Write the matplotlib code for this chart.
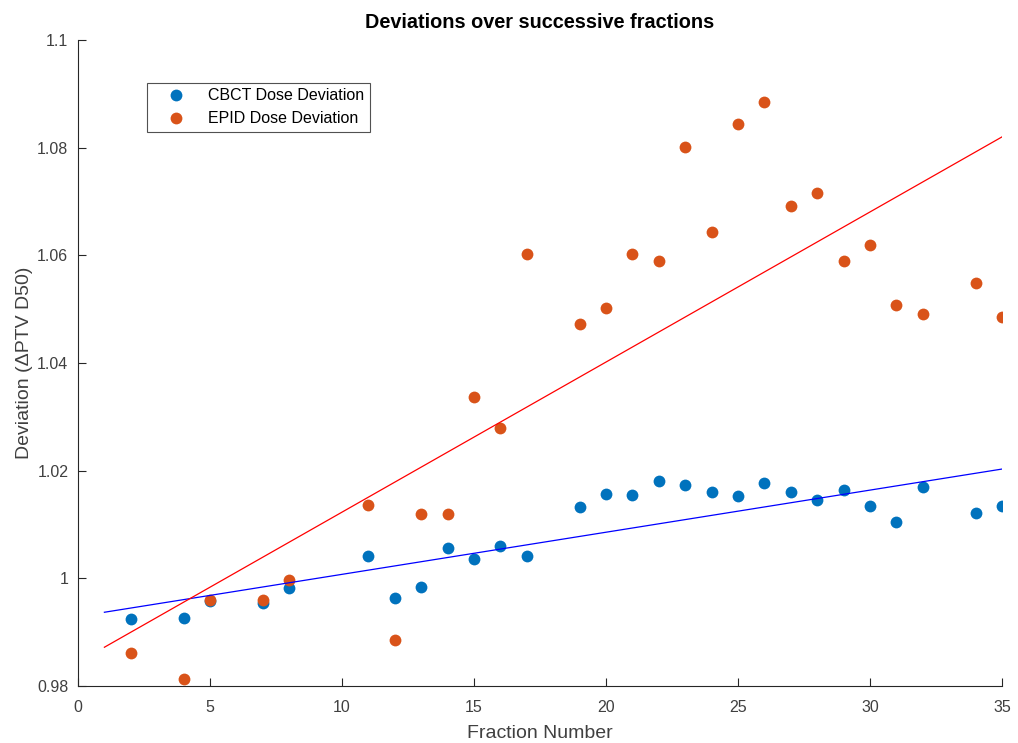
import numpy as np
import matplotlib.pyplot as plt

# ---------------- data ----------------
fractions = [2, 4, 5, 7, 8, 11, 12, 13, 14, 15, 16, 17, 19, 20, 21, 22, 23, 24,
             25, 26, 27, 28, 29, 30, 31, 32, 34, 35]
cbct_dev = [0.9924, 0.9926, 0.9958, 0.9954, 0.9982, 1.0041, 0.9963, 0.9984,
            1.0056, 1.0036, 1.0060, 1.0041, 1.0132, 1.0157, 1.0155, 1.0181,
            1.0173, 1.0160, 1.0153, 1.0177, 1.0160, 1.0145, 1.0164, 1.0134,
            1.0105, 1.0170, 1.0121, 1.0134]
epid_dev = [0.9861, 0.9813, 0.9960, 0.9960, 0.9997, 1.0136, 0.9885, 1.0119,
            1.0119, 1.0337, 1.0279, 1.0602, 1.0472, 1.0502, 1.0602, 1.0589,
            1.0801, 1.0643, 1.0844, 1.0885, 1.0692, 1.0716, 1.0589, 1.0619,
            1.0508, 1.0491, 1.0549, 1.0485]

# trend lines (fraction 1 -> 35)
trend_x = [1, 35]
cbct_trend = [0.9937, 1.0203]
epid_trend = [0.9872, 1.0820]

plt.rcParams['font.family'] = ['Liberation Sans', 'DejaVu Sans']

fig = plt.figure(figsize=(10.18, 7.43), dpi=100)
ax = fig.add_axes([78 / 1018, 1 - 686 / 743, 924 / 1018, 646 / 743])

ax.plot(fractions, cbct_dev, 'o', color='#0072BD', ms=8.5, mec='none',
        label='CBCT Dose Deviation')
ax.plot(fractions, epid_dev, 'o', color='#D95319', ms=8.5, mec='none',
        label='EPID Dose Deviation')
ax.plot(trend_x, cbct_trend, '-', color='#0000ff', lw=0.9)
ax.plot(trend_x, epid_trend, '-', color='#ff0000', lw=0.9)

ax.set_xlim(0, 35)
ax.set_ylim(0.98, 1.1)
ax.set_xticks([0, 5, 10, 15, 20, 25, 30, 35])
ax.set_yticks([0.98, 1.0, 1.02, 1.04, 1.06, 1.08, 1.1])
ax.set_yticklabels(['0.98', '1', '1.02', '1.04', '1.06', '1.08', '1.1'])

for s in ['top', 'right']:
    ax.spines[s].set_visible(False)
for s in ['left', 'bottom']:
    ax.spines[s].set_color('#262626')
    ax.spines[s].set_linewidth(0.8)
ax.tick_params(direction='in', length=6, width=0.8, colors='#262626',
               labelsize=11.5, labelcolor='#404040')
ax.tick_params(axis='x', pad=10)
ax.tick_params(axis='y', pad=7)

ax.set_xlabel('Fraction Number', fontsize=14, color='#404040', labelpad=7)
ax.set_ylabel('Deviation (\u0394PTV D50)', fontsize=14, color='#404040',
              labelpad=3)
ax.set_title('Deviations over successive fractions', fontsize=14.3,
             fontweight='bold', pad=9)

leg = ax.legend(loc='upper left', bbox_to_anchor=(0.0746, 0.9336), fontsize=11.5,
                frameon=True, fancybox=False, edgecolor='#262626',
                borderpad=0.35, handletextpad=0.6, labelspacing=0.5,
                handlelength=2.9, borderaxespad=0.0)
leg.get_frame().set_linewidth(0.8)

fig.savefig('out.png', dpi=100)
